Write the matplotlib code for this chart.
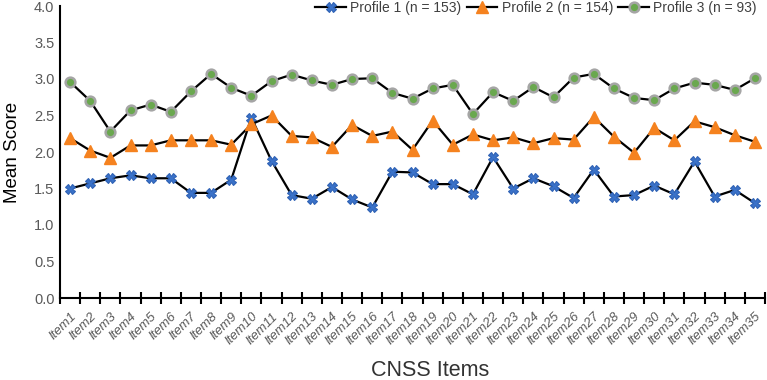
import matplotlib
matplotlib.use('Agg')
import matplotlib.pyplot as plt
import numpy as np

plt.rcParams['font.family'] = ['Liberation Sans', 'DejaVu Sans']

items = ['Item%d' % i for i in range(1, 36)]
profile1 = [1.50, 1.57, 1.64, 1.68, 1.64, 1.64, 1.44, 1.44, 1.62, 2.47,
            1.88, 1.41, 1.36, 1.52, 1.35, 1.24, 1.73, 1.72, 1.56, 1.56,
            1.42, 1.93, 1.50, 1.64, 1.53, 1.37, 1.76, 1.39, 1.41, 1.54,
            1.42, 1.87, 1.39, 1.48, 1.30]
profile2 = [2.19, 2.02, 1.92, 2.09, 2.09, 2.16, 2.16, 2.16, 2.10, 2.38,
            2.50, 2.22, 2.20, 2.07, 2.37, 2.22, 2.28, 2.03, 2.43, 2.10,
            2.24, 2.16, 2.20, 2.12, 2.19, 2.17, 2.48, 2.21, 1.99, 2.33,
            2.16, 2.42, 2.34, 2.23, 2.14]
profile3 = [2.96, 2.70, 2.28, 2.57, 2.65, 2.55, 2.83, 3.07, 2.88, 2.77,
            2.97, 3.06, 2.98, 2.92, 3.00, 3.01, 2.81, 2.73, 2.87, 2.92,
            2.52, 2.82, 2.70, 2.89, 2.75, 3.02, 3.07, 2.87, 2.74, 2.71,
            2.87, 2.95, 2.92, 2.85, 3.01]
labels = ['Profile 1 (n = 153)', 'Profile 2 (n = 154)', 'Profile 3 (n = 93)']

fig = plt.figure(figsize=(7.67, 3.8), dpi=100)
ax = fig.add_axes([60/767, 82/380, 705/767, 292/380])

x = np.arange(len(items))
ax.plot(x, profile1, color='black', lw=1.6, marker='X', ms=7,
        mfc='#3a72c9', mec='#2f62b5', mew=0.8, label=labels[0])
ax.plot(x, profile2, color='black', lw=1.6, marker='^', ms=8,
        mfc='#f5821f', mec='#f5821f', label=labels[1])
ax.plot(x, profile3, color='black', lw=1.6, marker='o', ms=7,
        mfc='#6aa84f', mec='#a5a5a5', mew=1.8, label=labels[2])

ax.set_xlim(-0.5, len(items) - 0.5)
ax.set_ylim(0, 4.0)
ax.set_yticks(np.arange(0, 4.01, 0.5))
ax.set_yticklabels(['%.1f' % v for v in np.arange(0, 4.01, 0.5)], color='#595959', fontsize=10.5)
ax.tick_params(axis='y', length=0, pad=4)

ax.set_xticks(x)
ax.set_xticklabels(items, rotation=45, ha='right', rotation_mode='anchor',
                   fontsize=9.5, style='italic', color='#595959')
ax.tick_params(axis='x', length=0, pad=9)
ax.set_xticks(np.arange(-0.5, len(items)), minor=True)
ax.tick_params(axis='x', which='minor', direction='inout', length=8, width=1.5, color='black')

for s in ['top', 'right']:
    ax.spines[s].set_visible(False)
ax.spines['left'].set_linewidth(1.5)
ax.spines['bottom'].set_linewidth(1.5)

ax.set_ylabel('Mean Score', fontsize=13.5, labelpad=9)
xl = ax.set_xlabel('CNSS Items', fontsize=15.5, color='#333333', va='center')
ax.xaxis.set_label_coords(0.525, -0.25)

ax.legend(loc='upper right', ncol=3, frameon=False, fontsize=10, labelcolor='#404040',
          bbox_to_anchor=(1.0, 1.045), handlelength=2.2, columnspacing=0.4,
          handletextpad=0.3, borderaxespad=0.2)

plt.savefig('out.png', dpi=100)
